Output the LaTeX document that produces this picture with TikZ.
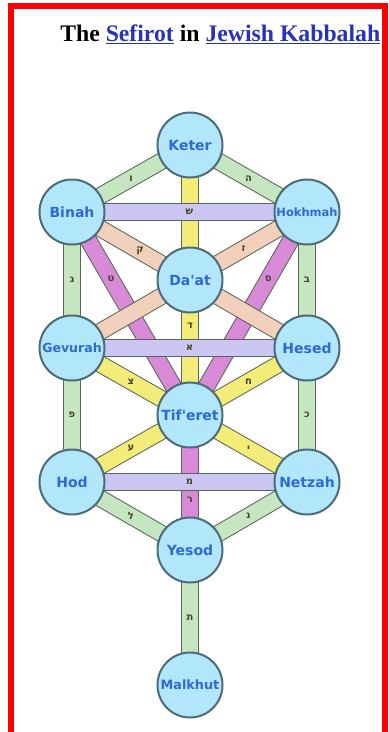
\documentclass[tikz,border=0pt]{standalone}
\usepackage{fontspec}
\setmainfont{Liberation Serif}
\newfontfamily\nodefont{DejaVu Sans}
\newfontfamily\hebfont{DejaVu Sans}
\definecolor{pgreen}{HTML}{C6E6C1}
\definecolor{pyellow}{HTML}{F4EC78}
\definecolor{pmagenta}{HTML}{D98AD6}
\definecolor{ppeach}{HTML}{F3D0BC}
\definecolor{plav}{HTML}{CBC7F2}
\definecolor{baredge}{HTML}{56665A}
\definecolor{nodefill}{HTML}{B2E6FB}
\definecolor{nodeedge}{HTML}{4C6C78}
\definecolor{nodetext}{HTML}{2C6AD4}
\definecolor{lettcol}{HTML}{45452E}
\definecolor{linkblue}{HTML}{2833B8}
\definecolor{framered}{HTML}{FF0000}
\pgfdeclarelayer{bglayer}
\pgfdeclarelayer{barlayer}
\pgfsetlayers{bglayer,barlayer,main}
\tikzset{
  sef/.style={circle, minimum size=48.75pt, inner sep=0pt, fill=nodefill, draw=nodeedge,
    line width=1.5pt, text=nodetext, font=\nodefont\bfseries\fontsize{10.5}{12}\selectfont},
  bar/.style={line width=0.75pt, draw=baredge, double distance=11.6pt, line cap=butt},
  lett/.style={font=\hebfont\bfseries\fontsize{7.5}{8}\selectfont, text=lettcol, inner sep=0pt},
  gbar/.style={bar, double=pgreen},
  ybar/.style={bar, double=pyellow},
  mbar/.style={bar, double=pmagenta},
  pbar/.style={bar, double=ppeach},
  lbar/.style={bar, double=plav},
}
\begin{document}
\begin{tikzpicture}[x=0.75pt,y=-0.75pt]
\begin{pgfonlayer}{bglayer}
\fill[white] (0,0) rectangle (389,732);
\end{pgfonlayer}
\useasboundingbox (0,0) rectangle (389,732);
% frame
\draw[framered, line width=4.5pt, line join=miter] (10.5,732) -- (10.5,6) -- (385,6) -- (385,732);
% title
\node[anchor=base west, inner sep=0pt, font=\bfseries\fontsize{17.8}{20}\selectfont, text=black] (title) at (60,41)
  {The \textcolor{linkblue}{\underline{Sefirot}} in \textcolor{linkblue}{\underline{Jewish Kabbalah}}};
% sefirot
\node[sef] (K) at (190,145) {Keter};
\node[sef] (B) at (72,212) {Binah};
\node[sef, font=\nodefont\bfseries\fontsize{8.6}{10}\selectfont] (Ho) at (307,212) {Hokhmah};
\node[sef] (D) at (190,280) {Da'at};
\node[sef, font=\nodefont\bfseries\fontsize{9.4}{11}\selectfont] (G) at (72,348) {Gevurah};
\node[sef] (He) at (307,348) {Hesed};
\node[sef] (T) at (190,415) {Tif'eret};
\node[sef] (Hod) at (72,482) {Hod};
\node[sef] (N) at (307,482) {Netzah};
\node[sef] (Y) at (190,550) {Yesod};
\node[sef, font=\nodefont\bfseries\fontsize{9.6}{11}\selectfont] (M) at (190,685) {Malkhut};
\begin{pgfonlayer}{barlayer}
% green paths
\draw[gbar] (K.center) -- (B.center) node[lett, pos=.5] {ו};
\draw[gbar] (K.center) -- (Ho.center) node[lett, pos=.5] {ה};
\draw[gbar] (B.center) -- (G.center) node[lett, pos=.5] {ג};
\draw[gbar] (Ho.center) -- (He.center) node[lett, pos=.5] {ב};
\draw[gbar] (G.center) -- (Hod.center) node[lett, pos=.5] {פ};
\draw[gbar] (He.center) -- (N.center) node[lett, pos=.5] {כ};
\draw[gbar] (Hod.center) -- (Y.center) node[lett, pos=.5] {ל};
\draw[gbar] (N.center) -- (Y.center) node[lett, pos=.5] {נ};
\draw[gbar] (Y.center) -- (M.center) node[lett, pos=.5] {ת};
% yellow paths
\draw[ybar] (K.center) -- (T.center) node[lett, pos=.67] {ד};
\draw[ybar] (G.center) -- (T.center) node[lett, pos=.5] {צ};
\draw[ybar] (He.center) -- (T.center) node[lett, pos=.5] {ח};
\draw[ybar] (Hod.center) -- (T.center) node[lett, pos=.5] {ע};
\draw[ybar] (N.center) -- (T.center) node[lett, pos=.5] {י};
% magenta paths
\draw[mbar] (B.center) -- (T.center) node[lett, pos=.33] {ט};
\draw[mbar] (Ho.center) -- (T.center) node[lett, pos=.33] {ס};
\draw[mbar] (T.center) -- (Y.center) node[lett, pos=.63] {ר};
% peach paths
\draw[pbar] (B.center) -- (He.center) node[lett, pos=.29] {ק};
\draw[pbar] (Ho.center) -- (G.center) node[lett, pos=.27] {ז};
% lavender paths
\draw[lbar] (B.center) -- (Ho.center) node[lett, pos=.5] {ש};
\draw[lbar] (G.center) -- (He.center) node[lett, pos=.5] {א};
\draw[lbar] (Hod.center) -- (N.center) node[lett, pos=.5] {מ};
\end{pgfonlayer}
\end{tikzpicture}
\end{document}
